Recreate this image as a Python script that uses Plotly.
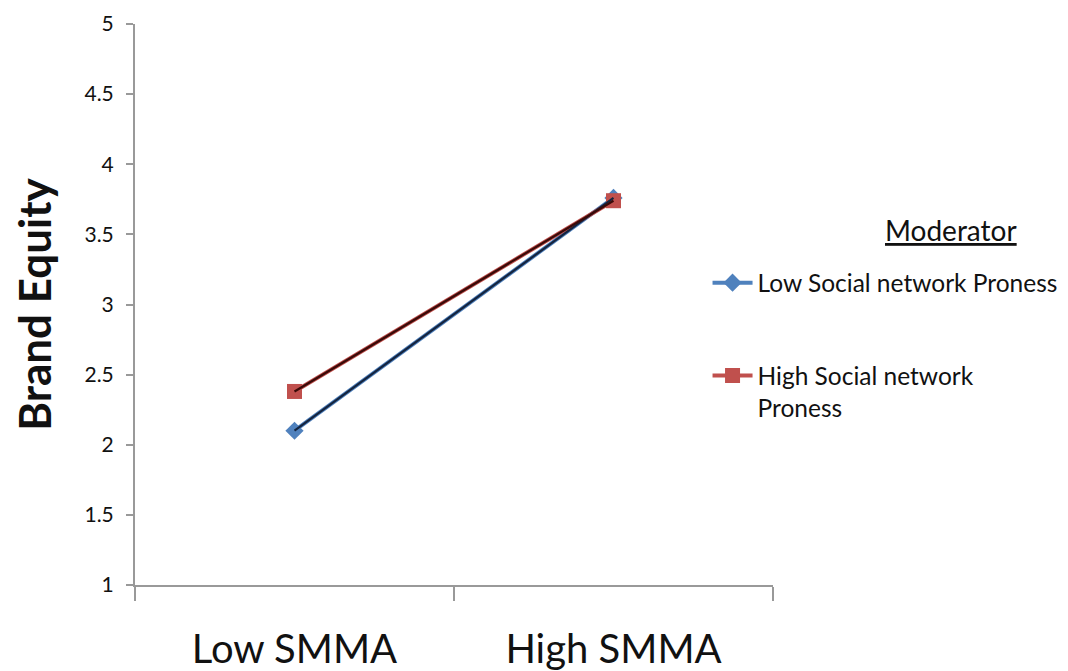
import plotly.graph_objects as go

categories = ["Low SMMA", "High SMMA"]
low_snp = [2.10, 3.76]
high_snp = [2.38, 3.74]
series_names = ["Low Social network Proness", "High Social network<br>Proness"]
y_ticks = [1, 1.5, 2, 2.5, 3, 3.5, 4, 4.5, 5]

FONT = "Lato, Open Sans, sans-serif"

fig = go.Figure()
fig.add_trace(go.Scatter(
    x=categories, y=low_snp, name=series_names[0], mode="lines+markers",
    line=dict(color="#4F81BD", width=4),
    marker=dict(symbol="diamond", size=14, color="#4F81BD"),
    legendgroup="a"))
fig.add_trace(go.Scatter(
    x=categories, y=high_snp, name=series_names[1], mode="lines+markers",
    line=dict(color="#C0504D", width=4),
    marker=dict(symbol="square", size=15, color="#C0504D"),
    legendgroup="b"))
fig.add_trace(go.Scatter(
    x=categories, y=low_snp, mode="lines", showlegend=False, hoverinfo="skip",
    line=dict(color="#14243f", width=2.2)))
fig.add_trace(go.Scatter(
    x=categories, y=high_snp, mode="lines", showlegend=False, hoverinfo="skip",
    line=dict(color="#3a0a08", width=2.2)))

fig.update_layout(
    width=1068, height=671,
    margin=dict(l=127, r=303, t=16, b=94, autoexpand=False),
    paper_bgcolor="white", plot_bgcolor="white",
    font=dict(family=FONT, color="#111"),
    legend=dict(xref="container", yref="container", x=0.655, y=0.624,
                xanchor="left", yanchor="top", valign="top",
                font=dict(size=24.5, family=FONT, color="#111"),
                tracegroupgap=58, itemwidth=40, bgcolor="rgba(0,0,0,0)"),
    annotations=[dict(text="<u>Moderator</u>", x=1.279, y=0.632, xref="paper", yref="paper",
                      xanchor="center", yanchor="middle", showarrow=False,
                      font=dict(size=28, family=FONT, color="#111"))],
)
fig.update_xaxes(
    type="category", range=[-0.5, 1.5], tickson="boundaries",
    showline=True, linecolor="#999", linewidth=2,
    ticks="outside", ticklen=14, tickcolor="#999", tickwidth=2,
    showgrid=False, zeroline=False,
    tickfont=dict(size=40, family=FONT, color="#111"),
    ticklabelstandoff=28,
)
fig.update_yaxes(
    range=[1, 5], tickvals=y_ticks, ticktext=[f"{v:g}" for v in y_ticks],
    showline=True, linecolor="#999", linewidth=2,
    ticks="outside", ticklen=7, tickcolor="#999", tickwidth=2,
    showgrid=False, zeroline=False, ticklabeloverflow="allow",
    ticklabelstandoff=8,
    tickfont=dict(size=21, family=FONT, color="#111"),
    title=dict(text="<b>Brand Equity</b>", font=dict(size=44, family=FONT, color="#111"), standoff=27),
)

fig.write_html("out.html")
